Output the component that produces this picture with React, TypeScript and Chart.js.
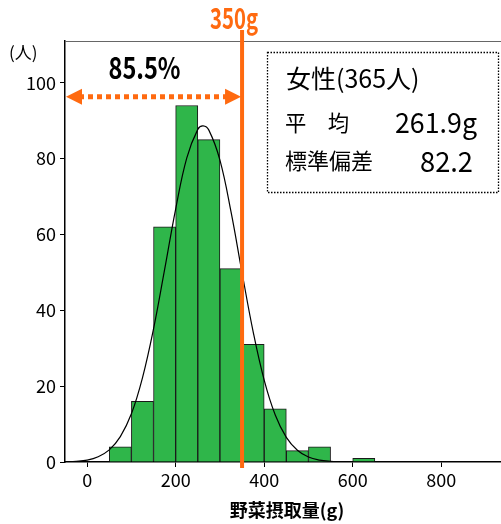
import React, { useEffect, useRef } from "react";
import { Chart, registerables } from "chart.js";

Chart.register(...registerables);

// Histogram bins (50 g wide), centers and counts
const binCenters = [75, 125, 175, 225, 275, 325, 375, 425, 475, 525, 575, 625];
const counts = [4, 16, 62, 94, 85, 51, 31, 14, 3, 4, 0, 1];

// Fitted curve
const curveX = [-50, -25, 0, 25, 50, 75, 100, 125, 150, 175, 200, 225, 250, 262, 275, 300, 325, 350, 375, 400, 425, 450, 475, 500, 525, 550, 575, 600, 650, 935];
const curveY = [0.1, 0.2, 0.5, 1.4, 3.2, 6.7, 12.7, 22.2, 35.1, 50.7, 66.7, 80.1, 87.7, 88.6, 87.5, 79.6, 66.0, 49.9, 34.4, 21.6, 12.4, 6.5, 3.1, 1.3, 0.5, 0.2, 0.1, 0, 0, 0];

const xTicks = [0, 200, 400, 600, 800];
const yTicks = [0, 20, 40, 60, 80, 100];

const cutoff = 350;
const cutoffLabel = "350g";
const arrowLevel = 96.3;
const shareLabel = "85.5%";
const boxTitle = "女性(365人)";
const meanLabel = "平　均";
const meanValue = "261.9g";
const sdLabel = "標準偏差";
const sdValue = "82.2";
const yUnit = "(人)";
const xTitle = "野菜摂取量(g)";

const ORANGE = "#ff6a10";
const GREEN = "#2fb64a";
const FONT = "'Noto Sans CJK JP', 'Noto Sans', sans-serif";

export default function App() {
  const ref = useRef<HTMLCanvasElement | null>(null);

  useEffect(() => {
    document.body.style.margin = "0";
    const canvas = ref.current!;
    const overlay = {
      id: "overlay",
      afterDraw(chart: any) {
        const ctx = chart.ctx as CanvasRenderingContext2D;
        const { left, right, top, bottom } = chart.chartArea;
        const xs = chart.scales.x;
        const ys = chart.scales.y;
        ctx.save();
        // top frame line
        ctx.strokeStyle = "#666";
        ctx.lineWidth = 1;
        ctx.beginPath();
        ctx.moveTo(left, top + 0.5);
        ctx.lineTo(right, top + 0.5);
        ctx.stroke();

        // cutoff line
        const xp = xs.getPixelForValue(cutoff);
        ctx.strokeStyle = ORANGE;
        ctx.lineWidth = 4;
        ctx.beginPath();
        ctx.moveTo(xp, top - 11);
        ctx.lineTo(xp, bottom + 6);
        ctx.stroke();

        ctx.fillStyle = ORANGE;
        ctx.font = `bold 29px ${FONT}`;
        ctx.textAlign = "center";
        ctx.textBaseline = "middle";
        ctx.fillText(cutoffLabel, xp - 8, 18, 48);

        // dotted double arrow
        const ay = ys.getPixelForValue(arrowLevel);
        ctx.setLineDash([5, 4]);
        ctx.lineWidth = 5;
        ctx.beginPath();
        ctx.moveTo(left + 14, ay);
        ctx.lineTo(xp - 14, ay);
        ctx.stroke();
        ctx.setLineDash([]);
        ctx.beginPath();
        ctx.moveTo(left + 1, ay);
        ctx.lineTo(left + 17, ay - 8);
        ctx.lineTo(left + 17, ay + 8);
        ctx.closePath();
        ctx.fill();
        ctx.beginPath();
        ctx.moveTo(xp - 1, ay);
        ctx.lineTo(xp - 17, ay - 8);
        ctx.lineTo(xp - 17, ay + 8);
        ctx.closePath();
        ctx.fill();

        // percentage
        ctx.fillStyle = "#000";
        ctx.font = `bold 30px ${FONT}`;
        ctx.fillText(shareLabel, (left + xp) / 2 - 9, ay - 29, 72);

        // info box
        ctx.strokeStyle = "#000";
        ctx.lineWidth = 1.3;
        ctx.setLineDash([1.5, 1.5]);
        ctx.strokeRect(267.5, 52.5, 231, 140);
        ctx.setLineDash([]);
        ctx.textAlign = "left";
        ctx.font = `25px ${FONT}`;
        ctx.fillText(boxTitle, 286, 78, 142);
        ctx.font = `22px ${FONT}`;
        ctx.fillText(meanLabel, 285, 123, 64);
        ctx.fillText(sdLabel, 285, 161, 93);
        ctx.font = `28px ${FONT}`;
        ctx.textAlign = "right";
        ctx.fillText(meanValue, 477, 122, 82);
        ctx.fillText(sdValue, 473, 161, 53);

        // y unit
        ctx.textAlign = "left";
        ctx.font = `17px ${FONT}`;
        ctx.fillText(yUnit, 9, 53);

        // x title
        ctx.textAlign = "center";
        ctx.font = `bold 18px ${FONT}`;
        ctx.fillText(xTitle, (left + right) / 2 + 4, 510);
        ctx.restore();
      },
    };

    const chart = new Chart(canvas, {
      type: "bar",
      data: {
        datasets: [
          {
            type: "line",
            data: curveX.map((x, i) => ({ x, y: curveY[i] })),
            borderColor: "#000",
            borderWidth: 1.2,
            pointRadius: 0,
            tension: 0.4,
            fill: false,
            order: 0,
          } as any,
          {
            type: "bar",
            data: binCenters.map((x, i) => ({ x, y: counts[i] })),
            backgroundColor: GREEN,
            borderColor: "#1a1a1a",
            borderWidth: 1,
            barPercentage: 1,
            categoryPercentage: 1,
            order: 1,
          } as any,
        ],
      },
      options: {
        responsive: false,
        animation: false,
        events: [],
        layout: { padding: { left: 0, right: 0, top: 41, bottom: 0 } },
        plugins: { legend: { display: false }, tooltip: { enabled: false } },
        scales: {
          x: {
            type: "linear",
            min: -50,
            max: 935,
            offset: false,
            afterFit: (s: any) => { s.height = 62; },
            afterBuildTicks: (s: any) => { s.ticks = xTicks.map((v) => ({ value: v })); },
            grid: { display: true, drawOnChartArea: false, offset: false, tickLength: 5, tickColor: "#000", tickWidth: 1 },
            border: { color: "#000", width: 1.5 },
            ticks: { color: "#000", font: { family: FONT, size: 18 }, padding: 2, maxRotation: 0 },
          },
          y: {
            min: 0,
            max: 111,
            afterFit: (s: any) => { s.width = 65; },
            afterBuildTicks: (s: any) => { s.ticks = yTicks.map((v) => ({ value: v })); },
            grid: { display: true, drawOnChartArea: false, tickLength: 5, tickColor: "#000", tickWidth: 1 },
            border: { color: "#000", width: 1.5 },
            ticks: { color: "#000", font: { family: FONT, size: 18 }, padding: 4 },
          },
        },
      },
      plugins: [overlay],
    });
    return () => chart.destroy();
  }, []);

  return (
    <div style={{ width: 501, height: 524 }}>
      <canvas ref={ref} width={501} height={524} />
    </div>
  );
}
